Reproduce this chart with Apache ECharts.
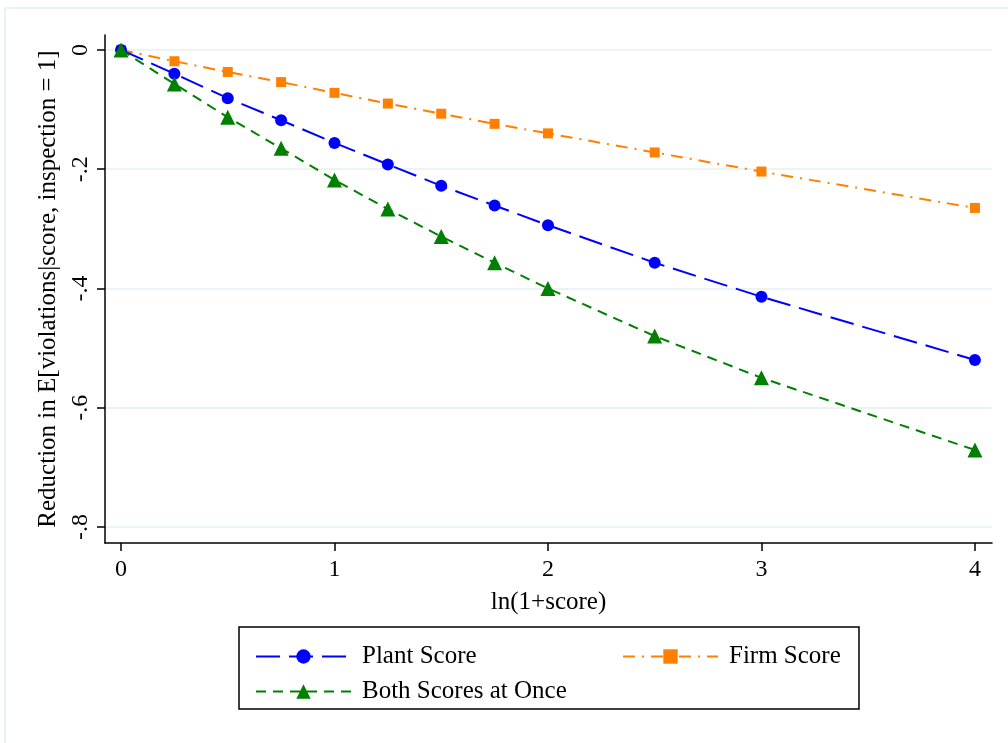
<!DOCTYPE html>
<html>
<head>
<meta charset="utf-8">
<script src="https://cdn.jsdelivr.net/npm/echarts@6/dist/echarts.min.js"></script>
<style>
  html, body { margin: 0; padding: 0; background: #fff; }
  #chart { width: 1008px; height: 743px; }
</style>
</head>
<body>
<div id="chart"></div>
<script>
const xVals = [0, 0.25, 0.5, 0.75, 1, 1.25, 1.5, 1.75, 2, 2.5, 3, 4]
const plantScore = [0, -0.040, -0.081, -0.118, -0.156, -0.192, -0.228, -0.261, -0.294, -0.357, -0.414, -0.520]
const firmScore = [0, -0.019, -0.037, -0.054, -0.072, -0.090, -0.107, -0.124, -0.140, -0.172, -0.204, -0.265]
const bothScores = [0, -0.057, -0.113, -0.165, -0.218, -0.267, -0.313, -0.357, -0.400, -0.480, -0.550, -0.671]
const xTicks = [0, 1, 2, 3, 4]
const yTicks = [-0.8, -0.6, -0.4, -0.2, 0]

const serif = 'Liberation Serif'
const pairs = (ys) => xVals.map((x, i) => [x, ys[i]])
const fmtY = (v) => {
  const s = (+v).toFixed(1)
  return s === '0.0' || s === '-0.0' ? '0' : s.replace('0.', '.')
}

const chart = echarts.init(document.getElementById('chart'))
const legendText = { fontFamily: serif, fontSize: 25, color: '#000', padding: [0, 0, 0, 6] }
chart.setOption({
  animation: false,
  backgroundColor: '#fff',
  grid: { left: 105, right: 16, top: 35, bottom: 200 },
  xAxis: {
    type: 'value',
    min: -0.075,
    max: 4.08,
    name: 'ln(1+score)',
    nameLocation: 'middle',
    nameGap: 47,
    nameTextStyle: { fontFamily: serif, fontSize: 25, color: '#000' },
    axisLine: { show: true, onZero: false, lineStyle: { color: '#000', width: 1.5 } },
    axisTick: { show: true, length: 8, customValues: xTicks, lineStyle: { color: '#000', width: 1.5 } },
    axisLabel: { customValues: xTicks, margin: 15, fontFamily: serif, fontSize: 24, color: '#000' },
    splitLine: { show: false },
  },
  yAxis: {
    type: 'value',
    min: -0.827,
    max: 0.025,
    name: 'Reduction in E[violations|score, inspection = 1]',
    nameLocation: 'middle',
    nameGap: 44,
    nameTextStyle: { fontFamily: serif, fontSize: 25, color: '#000' },
    axisLine: { show: true, onZero: false, lineStyle: { color: '#000', width: 1.5 } },
    axisTick: { show: true, length: 8, customValues: yTicks, lineStyle: { color: '#000', width: 1.5 } },
    axisLabel: {
      customValues: yTicks, rotate: 90, margin: 12,
      fontFamily: serif, fontSize: 24, color: '#000',
      formatter: fmtY,
    },
    splitLine: { show: true, lineStyle: { color: '#e6eff1', width: 1.5 } },
  },
  legend: [
    {
      data: ['Plant Score'], left: 250, top: 639,
      itemWidth: 95, itemHeight: 18, textStyle: legendText,
    },
    {
      data: ['Firm Score'], left: 617, top: 639,
      itemWidth: 95, itemHeight: 18, textStyle: legendText,
    },
    {
      data: ['Both Scores at Once'], left: 250, top: 674,
      itemWidth: 95, itemHeight: 18, textStyle: legendText,
    },
  ],
  graphic: [
    {
      type: 'rect', silent: true, z: -10,
      shape: { x: 5, y: 8, width: 1010, height: 740 },
      style: { fill: 'none', stroke: '#e6eef0', lineWidth: 1.5 },
    },
    {
      type: 'rect', silent: true,
      shape: { x: 239, y: 627, width: 620, height: 82 },
      style: { fill: 'none', stroke: '#000', lineWidth: 1.5 },
    },
  ],
  series: [
    {
      name: 'Firm Score',
      type: 'line',
      data: pairs(firmScore),
      symbol: 'rect',
      symbolSize: 10,
      color: '#ff8000',
      lineStyle: { width: 2, type: [12, 7, 2, 7] },
    },
    {
      name: 'Plant Score',
      type: 'line',
      data: pairs(plantScore),
      symbol: 'circle',
      symbolSize: 12,
      color: '#0000ff',
      lineStyle: { width: 2, type: [24, 9] },
    },
    {
      name: 'Both Scores at Once',
      type: 'line',
      data: pairs(bothScores),
      symbol: 'triangle',
      symbolSize: 15,
      color: '#008000',
      lineStyle: { width: 2, type: [10, 7] },
    },
  ],
})
</script>
</body>
</html>
